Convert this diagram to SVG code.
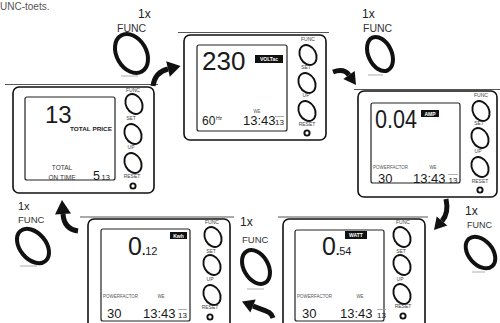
<svg xmlns="http://www.w3.org/2000/svg" width="500" height="323" viewBox="0 0 500 323">
<style>
text{font-family:"Liberation Sans",Arial,sans-serif;fill:#1a1a1a}
.edge{stroke:#555;stroke-width:1}
.box{fill:#fff;stroke:#111;stroke-width:1.6}
.scr{fill:#fff;stroke:#222;stroke-width:1.2}
.btn{fill:none;stroke:#111;stroke-width:1.9}
.bl{font-size:5px;fill:#444;text-anchor:middle}
.ring{fill:none;stroke:#111;stroke-width:4}
.sh{stroke:#999;stroke-width:0.8}
.one{font-size:12px;fill:#222}
.fn{font-size:10.5px;fill:#333}
.tag{fill:#111}
.tagt{font-size:5px;font-weight:bold;fill:#fff;text-anchor:middle}
.tiny{font-size:4.5px;fill:#555}
.big{font-size:25px}
.mid{font-size:13px}
.sm{font-size:8px}
.arr{fill:none;stroke:#111;stroke-width:5}
.ah{fill:#111}
</style>

<text x="0" y="10" style="font-size:10px;fill:#555">UNC-toets.</text>

<!-- Device 1: VOLT -->
<g id="dev-volt">
<line class="edge" x1="178" y1="32.5" x2="329" y2="32.5"/>
<rect class="box" x="184" y="35" width="142" height="105" rx="6"/>
<rect class="scr" x="197" y="45" width="90" height="86" rx="2"/>
<text x="202" y="70" style="font-size:26px">230</text>
<rect class="tag" x="255" y="55" width="28" height="8"/>
<text class="tagt" x="269" y="61.3">VOLTac</text>
<text x="202" y="125" style="font-size:12px">60</text>
<text x="216" y="120" style="font-size:5px">Hz</text>
<text class="tiny" x="257" y="113" text-anchor="middle">WE</text>
<text class="mid" x="243" y="125">13:43</text>
<line class="sh" x1="275" y1="116.5" x2="284" y2="116.5"/>
<text class="sm" x="275" y="125">13</text>
<text class="bl" x="308" y="40.5">FUNC</text>
<ellipse class="btn" cx="308" cy="55" rx="8" ry="10.5" transform="rotate(-28 308 55)"/>
<text class="bl" x="306" y="69">SET</text>
<ellipse class="btn" cx="307" cy="83" rx="8" ry="10.5" transform="rotate(-28 307 83)"/>
<text class="bl" x="306" y="97">UP</text>
<ellipse class="btn" cx="307" cy="111" rx="8" ry="10.5" transform="rotate(-28 307 111)"/>
<text class="bl" x="307" y="126">RESET</text>
<circle class="btn" cx="307" cy="133" r="2.6"/>
</g>

<!-- Device 2: AMP -->
<g id="dev-amp">
<line class="edge" x1="354" y1="89.5" x2="500" y2="89.5"/>
<rect class="box" x="358" y="91" width="139" height="106" rx="6"/>
<rect class="scr" x="371" y="103" width="89" height="80" rx="2"/>
<text class="big" x="375" y="128" textLength="42" lengthAdjust="spacingAndGlyphs">0.04</text>
<rect class="tag" x="421" y="110" width="18" height="7"/>
<text class="tagt" x="430" y="115.6">AMP</text>
<text class="tiny" x="373" y="169" textLength="35" lengthAdjust="spacingAndGlyphs">POWERFACTOR</text>
<text class="tiny" x="433" y="169" text-anchor="middle">WE</text>
<text class="mid" x="378" y="183">30</text>
<text class="mid" x="413" y="183">13:43</text>
<line class="sh" x1="448" y1="174.5" x2="458" y2="174.5"/>
<text class="sm" x="448.5" y="183">13</text>
<text class="bl" x="481" y="97">FUNC</text>
<ellipse class="btn" cx="481" cy="111" rx="8" ry="10.5" transform="rotate(-28 481 111)"/>
<text class="bl" x="479" y="125">SET</text>
<ellipse class="btn" cx="480" cy="138" rx="8" ry="10.5" transform="rotate(-28 480 138)"/>
<text class="bl" x="478" y="153">UP</text>
<ellipse class="btn" cx="480" cy="167" rx="8" ry="10.5" transform="rotate(-28 480 167)"/>
<text class="bl" x="480" y="183">RESET</text>
<circle class="btn" cx="480" cy="190" r="2.6"/>
</g>

<!-- Device 3: WATT -->
<g id="dev-watt">
<line class="edge" x1="278" y1="217" x2="428" y2="217"/>
<rect class="box" x="283" y="219" width="142" height="120" rx="6"/>
<rect class="scr" x="295" y="230" width="89" height="91" rx="2"/>
<rect class="tag" x="345" y="231" width="22" height="8"/>
<text class="tagt" x="356" y="237.2">WATT</text>
<text class="big" x="322" y="255">0<tspan style="font-size:12px" font-weight="bold">.</tspan><tspan style="font-size:11px">54</tspan></text>
<text class="tiny" x="297" y="298" textLength="35" lengthAdjust="spacingAndGlyphs">POWERFACTOR</text>
<text class="tiny" x="360" y="298" text-anchor="middle">WE</text>
<text class="mid" x="302" y="318">30</text>
<text class="mid" x="340" y="318">13:43</text>
<line class="sh" x1="377" y1="309.5" x2="386" y2="309.5"/>
<text class="sm" x="377" y="318">13</text>
<text class="bl" x="403" y="224">FUNC</text>
<ellipse class="btn" cx="402" cy="237" rx="8" ry="10.5" transform="rotate(-28 402 237)"/>
<text class="bl" x="401" y="253">SET</text>
<ellipse class="btn" cx="402" cy="265" rx="8" ry="10.5" transform="rotate(-28 402 265)"/>
<text class="bl" x="400" y="281">UP</text>
<ellipse class="btn" cx="402" cy="294" rx="8" ry="10.5" transform="rotate(-28 402 294)"/>
<text class="bl" x="403" y="308">RESET</text>
<circle class="btn" cx="403" cy="316" r="2.6"/>
</g>

<!-- Device 4: Kwh -->
<g id="dev-kwh">
<line class="edge" x1="80" y1="217" x2="234" y2="217"/>
<rect class="box" x="88" y="219" width="142" height="120" rx="6"/>
<rect class="scr" x="101" y="229" width="89" height="92" rx="2"/>
<rect class="tag" x="170" y="232" width="17" height="7"/>
<text class="tagt" x="178.5" y="237.6">Kwh</text>
<text class="big" x="128" y="255">0<tspan style="font-size:12px" font-weight="bold">.</tspan><tspan style="font-size:11px">12</tspan></text>
<text class="tiny" x="103" y="298" textLength="35" lengthAdjust="spacingAndGlyphs">POWERFACTOR</text>
<text class="tiny" x="161" y="298" text-anchor="middle">WE</text>
<text class="mid" x="107" y="318">30</text>
<text class="mid" x="143" y="318">13:43</text>
<line class="sh" x1="178" y1="309.5" x2="187" y2="309.5"/>
<text class="sm" x="178" y="318">13</text>
<text class="bl" x="212" y="224">FUNC</text>
<ellipse class="btn" cx="213" cy="237" rx="8" ry="10.5" transform="rotate(-28 213 237)"/>
<text class="bl" x="211" y="253">SET</text>
<ellipse class="btn" cx="212" cy="265" rx="8" ry="10.5" transform="rotate(-28 212 265)"/>
<text class="bl" x="210" y="281">UP</text>
<ellipse class="btn" cx="212" cy="295" rx="8" ry="10.5" transform="rotate(-28 212 295)"/>
<text class="bl" x="210" y="309">RESET</text>
<circle class="btn" cx="210" cy="317" r="2.6"/>
</g>

<!-- Device 5: TOTAL PRICE -->
<g id="dev-total">
<line class="edge" x1="5" y1="84.5" x2="158" y2="84.5"/>
<rect class="box" x="13" y="87" width="141" height="106" rx="6"/>
<rect class="scr" x="25" y="97" width="90" height="83" rx="2"/>
<text x="45" y="123" style="font-size:24px">13</text>
<text x="70" y="131" style="font-size:5.8px;font-weight:bold" textLength="42" lengthAdjust="spacingAndGlyphs">TOTAL PRICE</text>
<text x="62" y="170" style="font-size:6.5px;fill:#333" text-anchor="middle">TOTAL</text>
<text x="62" y="180" style="font-size:6.5px;fill:#333" text-anchor="middle">ON TIME</text>
<text x="93" y="180" style="font-size:12.5px">5</text>
<text x="101.5" y="180" style="font-size:7.5px">13</text>
<text class="bl" x="133" y="92">FUNC</text>
<ellipse class="btn" cx="134" cy="104" rx="8" ry="10.5" transform="rotate(-28 134 104)"/>
<text class="bl" x="131" y="120">SET</text>
<ellipse class="btn" cx="133" cy="134" rx="8" ry="10.5" transform="rotate(-28 133 134)"/>
<text class="bl" x="131" y="149">UP</text>
<ellipse class="btn" cx="133" cy="163" rx="8" ry="10.5" transform="rotate(-28 133 163)"/>
<text class="bl" x="132" y="178">RESET</text>
<circle class="btn" cx="133" cy="186" r="2.6"/>
</g>

<!-- FUNC press indicators -->
<g id="press-a">
<text class="one" x="138" y="18">1x</text>
<text class="fn" x="117" y="32">FUNC</text>
<ellipse class="ring" cx="131.5" cy="53.5" rx="14.8" ry="20.8" transform="rotate(-30 131.5 53.5)"/>
<line class="sh" x1="121" y1="76" x2="138" y2="76"/>
</g>
<g id="press-b">
<text class="one" x="362" y="18">1x</text>
<text class="fn" x="363" y="32">FUNC</text>
<ellipse class="ring" cx="380" cy="54" rx="11.6" ry="18" transform="rotate(-25 380 54)"/>
<line class="sh" x1="368" y1="75" x2="383" y2="75"/>
</g>
<g id="press-c">
<text class="one" x="465" y="215">1x</text>
<text class="fn" x="467" y="228" style="font-size:9px">FUNC</text>
<ellipse class="ring" cx="480.5" cy="252.5" rx="12" ry="18" transform="rotate(-40 480.5 252.5)"/>
<line class="sh" x1="472" y1="272" x2="485" y2="272"/>
</g>
<g id="press-d">
<text class="one" x="240" y="226">1x</text>
<text class="fn" x="242" y="243" style="font-size:9.5px">FUNC</text>
<ellipse class="ring" cx="256" cy="267" rx="12.2" ry="18.3" transform="rotate(-30 256 267)"/>
<line class="sh" x1="247" y1="289" x2="264" y2="289"/>
</g>
<g id="press-e">
<text class="one" x="18" y="210" style="font-size:11px">1x</text>
<text class="fn" x="18" y="223" style="font-size:9.5px">FUNC</text>
<ellipse class="ring" cx="33" cy="246" rx="13" ry="19.5" transform="rotate(-40 33 246)"/>
<line class="sh" x1="20" y1="266" x2="37" y2="266"/>
</g>

<!-- connectors -->
<g id="connectors">
<path class="arr" d="M153,86 Q155,72 168,69"/>
<polygon class="ah" points="180.6,66.1 166.2,61.2 169.8,76.8"/>
<path class="arr" d="M333,72 Q344,68 349,75"/>
<polygon class="ah" points="356,85 354.7,70.9 343.3,79.1"/>
<path class="arr" d="M446,199 Q449,213 442,221"/>
<polygon class="ah" points="434,230 447.3,225.6 436.7,216.4"/>
<path class="arr" d="M273,318 C271,311 265,311 253,306"/>
<polygon class="ah" points="242,301.4 255.7,299.6 250.3,312.4"/>
<path class="arr" d="M78,231 Q64,229 63,214"/>
<polygon class="ah" points="62,200 71,213.4 55,214.6"/>
</g>
</svg>
